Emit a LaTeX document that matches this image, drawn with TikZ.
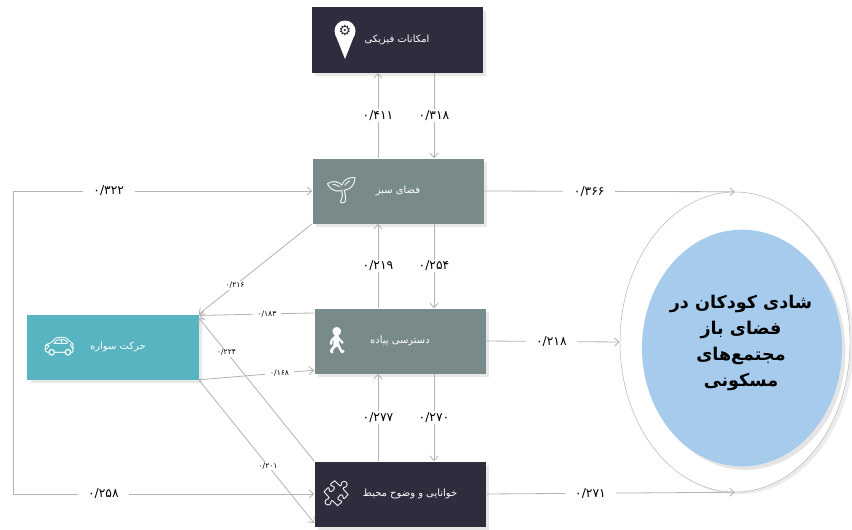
\documentclass[tikz,border=0pt]{standalone}
\usepackage{fontspec}
\usepackage{xcolor}
\usetikzlibrary{arrows.meta, shapes.geometric, shadows}
\TeXXeTstate=1
\newfontfamily\arabicfont[Script=Arabic]{DejaVu Sans}
\newfontfamily\emojifont{Noto Emoji}
\newfontfamily\symbolfont{DejaVu Sans}
\definecolor{NightBox}{HTML}{2F2C3E}
\definecolor{SlateBox}{HTML}{798A8B}
\definecolor{TealBox}{HTML}{58B4C0}
\definecolor{SkyFill}{HTML}{A6CBEC}
\definecolor{ArrowGray}{HTML}{B3B3B3}
\newcommand{\fatext}[1]{{\arabicfont\beginR #1\endR}}

\begin{document}
\begin{tikzpicture}[x=0.03cm, y=-0.03cm,
    box/.style={rectangle, minimum width=5.13cm, minimum height=1.95cm, text=white,
        font=\arabicfont\fontsize{8.5}{10}\selectfont,
        drop shadow={opacity=0.18, shadow xshift=3pt, shadow yshift=-3pt}},
    glyph/.style={text=white, inner sep=0pt, font=\emojifont\fontsize{22}{22}\selectfont},
    arr/.style={ArrowGray, line width=0.7pt, -{Straight Barb[length=4pt, width=7pt]}},
    lbl/.style={fill=white, inner xsep=9pt, inner ysep=1pt, text=black,
        font=\arabicfont\fontsize{10.5}{12}\selectfont},
    minilbl/.style={lbl, inner xsep=4pt, font=\arabicfont\fontsize{6.5}{7}\selectfont}]
    \useasboundingbox (0,0) rectangle (852,529);
    \coordinate (upx) at (378,0);
    \coordinate (dnx) at (434,0);
    \coordinate (loopT) at (13,191);
    \coordinate (loopB) at (13,494);

    \node[ellipse, draw=ArrowGray, fill=white, minimum width=6.9cm, minimum height=9cm,
        drop shadow={opacity=0.15, shadow xshift=3pt, shadow yshift=-2pt}] (goal) at (735,342) {};
    \node[ellipse, fill=SkyFill, minimum width=6.0cm, minimum height=7.1cm,
        drop shadow={opacity=0.2, shadow xshift=3pt, shadow yshift=-3pt}] (goalin) at (742,348) {};
    \node[align=center, font=\arabicfont\bfseries\fontsize{15}{22}\selectfont] (goaltxt) at (741,343)
        {\beginR شادی کودکان در\endR\\\beginR فضای باز\endR\\\beginR مجتمع‌های\endR\\\beginR مسکونی\endR};

    \node[box, fill=NightBox] (phys) at (397,40) {\fatext{امکانات فیزیکی}};
    \node[box, fill=SlateBox] (green) at (398,191) {\fatext{فضای سبز}};
    \node[box, fill=SlateBox] (walk) at (400,341) {\fatext{دسترسی پیاده}};
    \node[box, fill=NightBox] (legib) at (400,494) {\hspace*{0.6cm}\fatext{خوانایی و وضوح محیط}};
    \node[box, fill=TealBox] (car) at (113,347) {\hspace*{0.3cm}\fatext{حرکت سواره}};

    \fill[white] (345,31) circle[radius=10.5];
    \fill[white] (335.5,35) -- (345,59) -- (354.5,35) -- cycle;
    \node[text=NightBox, font=\symbolfont\fontsize{12}{12}\selectfont] (gear) at (345,31) {⚙};
    \node[glyph] (plant) at ([xshift=0.87cm]green.west) {🌱};
    \node[glyph] (walker) at ([xshift=0.69cm]walk.west) {\reflectbox{🚶}};
    \node[glyph] (puzzle) at ([xshift=0.66cm]legib.west) {🧩};
    \node[glyph] (carimg) at ([xshift=0.96cm]car.west) {🚗};

    \draw[arr] (green.north -| upx) -- node[lbl]{۰/۴۱۱} (phys.south -| upx);
    \draw[arr] (phys.south -| dnx) -- node[lbl]{۰/۳۱۸} (green.north -| dnx);
    \draw[arr] (walk.north -| upx) -- node[lbl]{۰/۲۱۹} (green.south -| upx);
    \draw[arr] (green.south -| dnx) -- node[lbl]{۰/۲۵۴} (walk.north -| dnx);
    \draw[arr] (legib.north -| upx) -- node[lbl]{۰/۲۷۷} (walk.south -| upx);
    \draw[arr] (walk.south -| dnx) -- node[lbl]{۰/۲۷۰} (legib.north -| dnx);

    \draw[arr] (green.east) -- node[lbl, pos=0.42]{۰/۳۶۶} (goal.north);
    \draw[arr] (walk.east) -- node[lbl, pos=0.49]{۰/۲۱۸} (goal.west);
    \draw[arr] (legib.east) -- node[lbl, pos=0.42]{۰/۲۷۱} (goal.south);

    \draw[ArrowGray, line width=0.7pt] (loopT) -- (loopB);
    \draw[arr] (loopT) -- node[lbl, pos=0.32]{۰/۳۲۲} (green.west);
    \draw[arr] (loopB) -- node[lbl, pos=0.30]{۰/۲۵۸} (legib.west);

    \draw[arr] (green.south west) -- node[minilbl, pos=0.68]{۰/۲۱۶} (car.north east);
    \draw[arr] ([yshift=-4pt]walk.north west) -- node[minilbl, pos=0.41]{۰/۱۸۳} ([yshift=-1pt]car.north east);
    \draw[arr] (legib.north west) -- node[minilbl, pos=0.76]{۰/۲۲۴} ([yshift=-3pt]car.north east);
    \draw[arr] (car.south east) -- node[minilbl, pos=0.7]{۰/۱۶۸} ([yshift=3pt]walk.south west);
    \draw[arr] (car.south east) -- node[minilbl, pos=0.6]{۰/۲۰۱} ([yshift=3pt]legib.south west);
\end{tikzpicture}
\end{document}
